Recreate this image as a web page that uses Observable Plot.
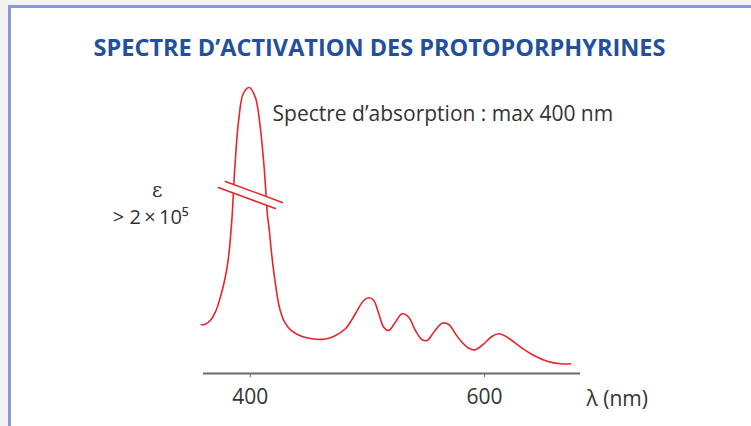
<!DOCTYPE html>
<html>
<head>
<meta charset="utf-8">
<script src="https://cdn.jsdelivr.net/npm/d3@7"></script>
<script src="https://cdn.jsdelivr.net/npm/@observablehq/plot@0.6"></script>
<style>
  html, body { margin: 0; padding: 0; background: #f3f3f3; width: 751px; height: 426px; overflow: hidden; }
  #frame { position: absolute; left: 8px; top: 5px; width: 800px; height: 480px; border: 3px solid #8e99d4; background: #fff; }
  #title { position: absolute; left: 0; top: 31px; width: 759px; text-align: center; font-family: "Open Sans", sans-serif; font-weight: 700; font-size: 23.5px; color: #234f9e; }
  #chart { position: absolute; left: 0; top: 0; }
</style>
</head>
<body>
<div id="frame"></div>
<div id="title">SPECTRE D’ACTIVATION DES PROTOPORPHYRINES</div>
<div id="chart"></div>
<script>
// wavelength (nm) and relative absorbance (arbitrary units, peak truncated by axis break)
const wavelength = [358.1, 361.5, 365.8, 370.1, 374.4, 378.0, 380.6, 382.3, 383.5, 384.6, 386.6, 390.0, 394.0, 399.1, 404.3, 408.5, 412.0, 414.5, 416.2, 418.5, 421.4, 424.8, 429.3, 435.6, 444.2, 452.7, 462.6, 471.2, 481.2, 489.7, 496.8, 501.1, 505.4, 509.7, 513.9, 518.2, 523.9, 529.7, 535.3, 541.0, 546.8, 551.0, 556.7, 563.8, 569.5, 575.2, 579.5, 586.6, 592.3, 599.4, 606.6, 612.2, 619.4, 630.8, 642.1, 653.6, 665.0, 673.5];
const absorbance = [48.7, 49.3, 53, 61.3, 76.3, 93, 109.7, 126.3, 143, 160, 203, 253, 280, 286, 276, 246, 203, 160, 143, 116.3, 89.7, 66.3, 51.3, 42.3, 37, 34.7, 34.3, 37, 44.7, 59.7, 73, 75.7, 73, 59.7, 46.3, 43, 51.3, 59.7, 56.3, 43, 33.7, 33, 41.3, 50.3, 49, 39.7, 33, 25.3, 23.7, 29.7, 37.3, 39.7, 36.3, 26.3, 18, 12.3, 9.7, 9.7];
const xTicks = [400, 600];
const xLabel = "λ (nm)";
const annotation = "Spectre d’absorption : max 400 nm";
const yLabel1 = "ε";
const yLabel2 = "> 2\u2009×\u200910⁵";
// axis-break marker (two parallel strokes across the peak)
const breakUpper = [[378.6, 192], [427.4, 171]];
const breakLower = [[372.6, 186], [421.4, 165]];

const spectrum = wavelength.map((w, i) => ({w, a: absorbance[i]}));
const gap = [breakUpper[0], breakUpper[1], breakLower[1], breakLower[0]].map(([w, a]) => ({w, a}));

const red = "#e8242c";
const plot = Plot.plot({
  width: 751,
  height: 426,
  marginLeft: 203,
  marginRight: 171,
  marginTop: 83,
  marginBottom: 53,
  style: {background: "transparent", fontFamily: "'Open Sans', sans-serif", color: "#333"},
  x: {domain: [360, 682]},
  y: {domain: [0, 290], axis: null},
  marks: [
    Plot.line(spectrum, {x: "w", y: "a", curve: "catmull-rom", stroke: red, strokeWidth: 1.6}),
    Plot.line(gap, {x: "w", y: "a", fill: "white", stroke: "none", curve: "linear-closed"}),
    Plot.line(breakUpper.map(([w, a]) => ({w, a})), {x: "w", y: "a", stroke: red, strokeWidth: 1.5}),
    Plot.line(breakLower.map(([w, a]) => ({w, a})), {x: "w", y: "a", stroke: red, strokeWidth: 1.5}),
    Plot.ruleY([0], {stroke: "#6b6b6b", strokeWidth: 2}),
    Plot.axisX({ticks: xTicks, tickSize: 4, tickPadding: 12, fontSize: 21, stroke: "#6b6b6b", label: null, fill: "#333"}),
    Plot.text([xLabel], {x: 682, y: 0, text: d => d, textAnchor: "start", dx: 6, dy: 26, fontSize: 21, fill: "#333"}),
    Plot.text([annotation], {x: 419, y: 259, text: d => d, textAnchor: "start", fontSize: 21, fill: "#333"}),
    Plot.text([yLabel1], {x: 320.5, y: 183, text: d => d, fontSize: 20, fill: "#333", fontFamily: "'DejaVu Serif', serif"}),
    Plot.text([yLabel2], {x: 315, y: 156, text: d => d, fontSize: 20, fill: "#333"})
  ]
});
document.getElementById("chart").appendChild(plot);
</script>
</body>
</html>
